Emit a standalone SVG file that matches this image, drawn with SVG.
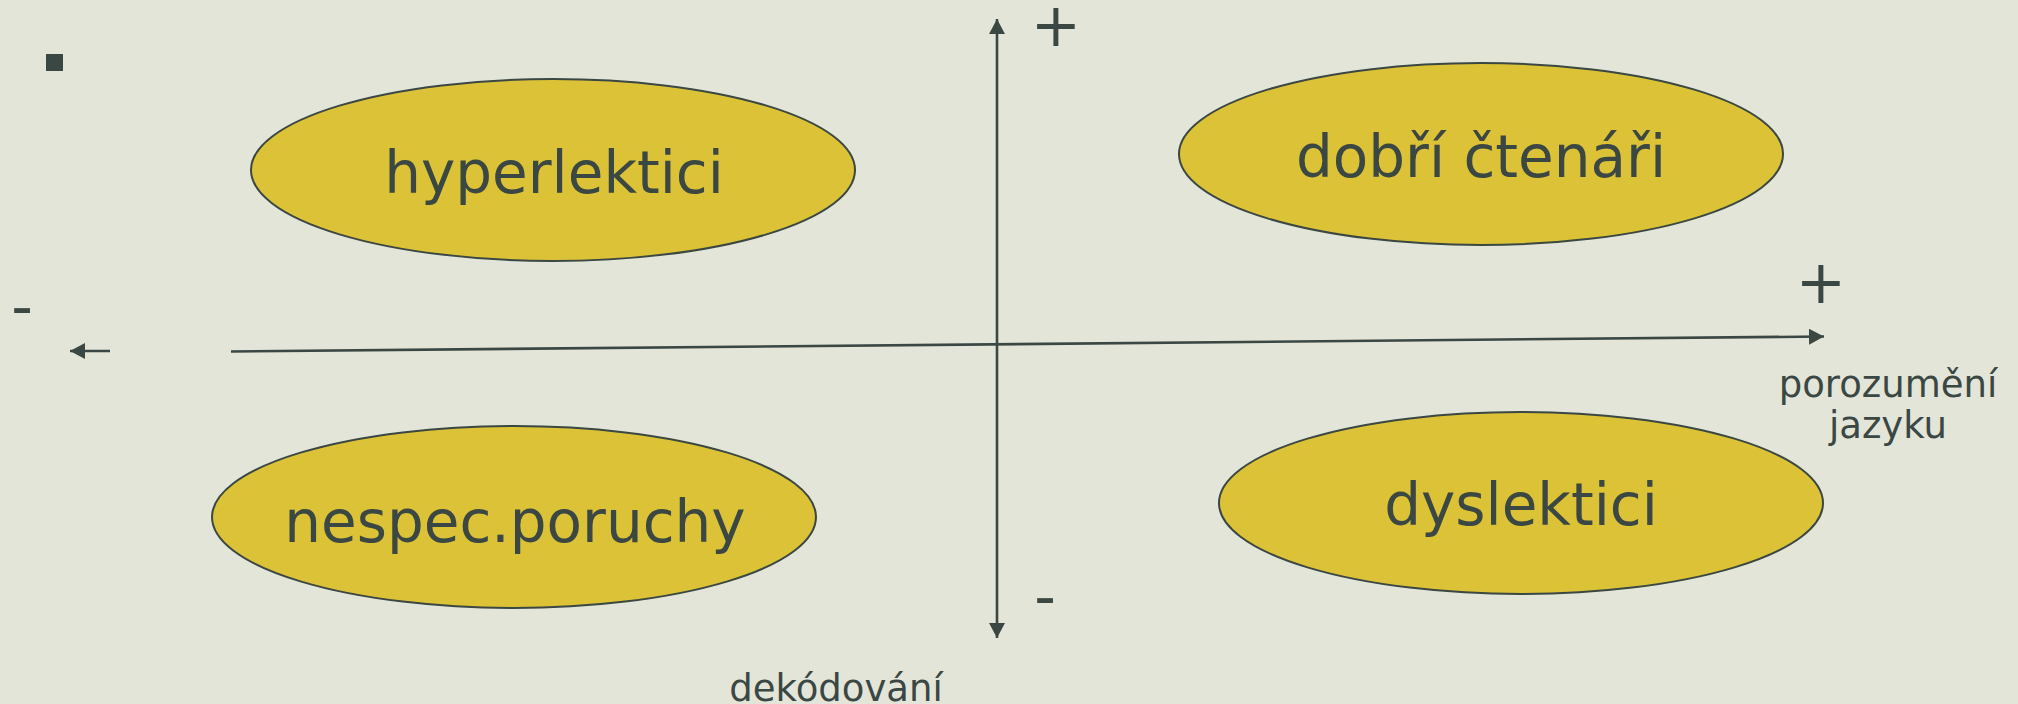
<svg xmlns="http://www.w3.org/2000/svg" width="2018" height="704" viewBox="0 0 2018 704">
<style>
.bg{fill:#E3E5D9}
.node ellipse{fill:#DCC236;stroke:#3A4743;stroke-width:2}
.lbl{font-family:"DejaVu Sans","Liberation Sans",sans-serif;font-size:58px;fill:#3A4743;text-anchor:middle}
.small{font-family:"DejaVu Sans","Liberation Sans",sans-serif;font-size:37px;fill:#3A4743;text-anchor:middle}
.sign{font-family:"DejaVu Sans","Liberation Sans",sans-serif;font-size:60px;fill:#3A4743;text-anchor:middle}
.axis{stroke:#3A4743;stroke-width:2.6;fill:none}
</style>
<defs>
<marker id="arr" markerUnits="userSpaceOnUse" markerWidth="16" markerHeight="17" refX="15" refY="8" orient="auto-start-reverse" viewBox="0 0 16 17">
<path d="M0,0 L15,8 L0,16 z" fill="#3A4743"/>
</marker>
</defs>
<rect class="bg" x="0" y="0" width="2018" height="704"/>
<rect x="46" y="54" width="17" height="17" fill="#3A4743"/>
<g id="connectors">
<line class="axis" x1="997" y1="638" x2="997" y2="19" marker-start="url(#arr)" marker-end="url(#arr)"/>
<line class="axis" x1="231" y1="351.5" x2="1824" y2="336.5" marker-end="url(#arr)"/>
<line class="axis" x1="110" y1="351" x2="70" y2="351" marker-end="url(#arr)"/>
</g>
<g id="node-hyperlektici" class="node">
<ellipse cx="553" cy="170" rx="302" ry="91"/>
<text class="lbl" x="554" y="193">hyperlektici</text>
</g>
<g id="node-dobri" class="node">
<ellipse cx="1481" cy="154" rx="302" ry="91"/>
<text class="lbl" x="1481" y="177">dobří čtenáři</text>
</g>
<g id="node-nespec" class="node">
<ellipse cx="514" cy="517" rx="302" ry="91"/>
<text class="lbl" x="515" y="542">nespec.poruchy</text>
</g>
<g id="node-dyslektici" class="node">
<ellipse cx="1521" cy="503" rx="302" ry="91"/>
<text class="lbl" x="1521" y="525">dyslektici</text>
</g>
<g id="labels">
<text class="sign" x="1056" y="46">+</text>
<text class="sign" x="1821" y="303">+</text>
<text class="sign" x="1045" y="617">-</text>
<text class="sign" x="22" y="327">-</text>
<text class="small" x="1888" y="397">porozumění</text>
<text class="small" x="1888" y="438">jazyku</text>
<text class="small" x="836" y="701">dekódování</text>
</g>
</svg>
